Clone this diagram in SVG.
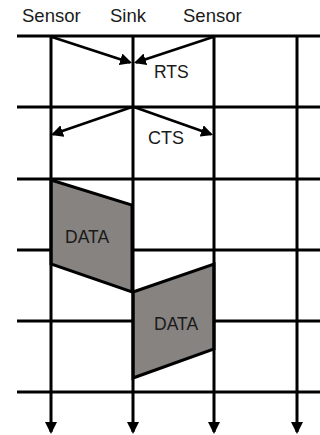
<svg xmlns="http://www.w3.org/2000/svg" width="320" height="435" viewBox="0 0 320 435">
  <defs>
    <style>
      .grid { stroke: #000; stroke-width: 3; fill: none; }
      .msg { stroke: #000; stroke-width: 2.6; fill: none; marker-end: url(#head); }
      .time { stroke: #000; stroke-width: 3; fill: none; marker-end: url(#head); }
      .data { fill: #878381; stroke: #000; stroke-width: 3; stroke-linejoin: miter; }
      .lbl { font-family: "Liberation Sans", Arial, sans-serif; font-size: 17.5px; fill: #1a1a1a; }
      .hdr { font-size: 18.5px; }
    </style>
    <marker id="head" viewBox="0 0 12 12" markerUnits="userSpaceOnUse" markerWidth="12" markerHeight="12" refX="10" refY="6" orient="auto">
      <path d="M0,0 L12,6 L0,12 z" fill="#000"/>
    </marker>
  </defs>

  <rect width="320" height="435" fill="#fff"/>

  <!-- column headers -->
  <g id="headers">
    <text class="lbl hdr" x="22" y="21.5">Sensor</text>
    <text class="lbl hdr" x="110" y="21.5">Sink</text>
    <text class="lbl hdr" x="183" y="21.5">Sensor</text>
  </g>

  <!-- time slot boundaries -->
  <g id="slots" class="grid">
    <line x1="17" y1="36" x2="320" y2="36"/>
    <line x1="17" y1="107" x2="320" y2="107"/>
    <line x1="17" y1="179" x2="320" y2="179"/>
    <line x1="17" y1="250" x2="320" y2="250"/>
    <line x1="17" y1="321" x2="320" y2="321"/>
    <line x1="17" y1="392" x2="320" y2="392"/>
  </g>

  <!-- data transmissions -->
  <g id="data1">
    <polygon class="data" points="51,180 132,205 132,292 51,264"/>
    <text class="lbl" x="65" y="243">DATA</text>
  </g>
  <g id="data2">
    <polygon class="data" points="133,292 214,264 214,349 133,378"/>
    <text class="lbl" x="154" y="330">DATA</text>
  </g>

  <!-- node timelines -->
  <g id="timelines">
    <line class="time" x1="51" y1="36" x2="51" y2="432"/>
    <line class="time" x1="133" y1="36" x2="133" y2="432"/>
    <line class="time" x1="214" y1="36" x2="214" y2="432"/>
    <line class="time" x1="297" y1="36" x2="297" y2="432"/>
  </g>

  <!-- control messages -->
  <g id="connectors">
    <line class="msg" x1="52" y1="37" x2="130.1" y2="62.4"/>
    <line class="msg" x1="213" y1="37" x2="135.9" y2="62.4"/>
    <line class="msg" x1="132" y1="107" x2="52.9" y2="134.3"/>
    <line class="msg" x1="134" y1="107" x2="211.1" y2="134.3"/>
  </g>

  <g id="msg-labels">
    <text class="lbl" x="154" y="78">RTS</text>
    <text class="lbl" x="148" y="144" style="font-size:18px">CTS</text>
  </g>
</svg>
